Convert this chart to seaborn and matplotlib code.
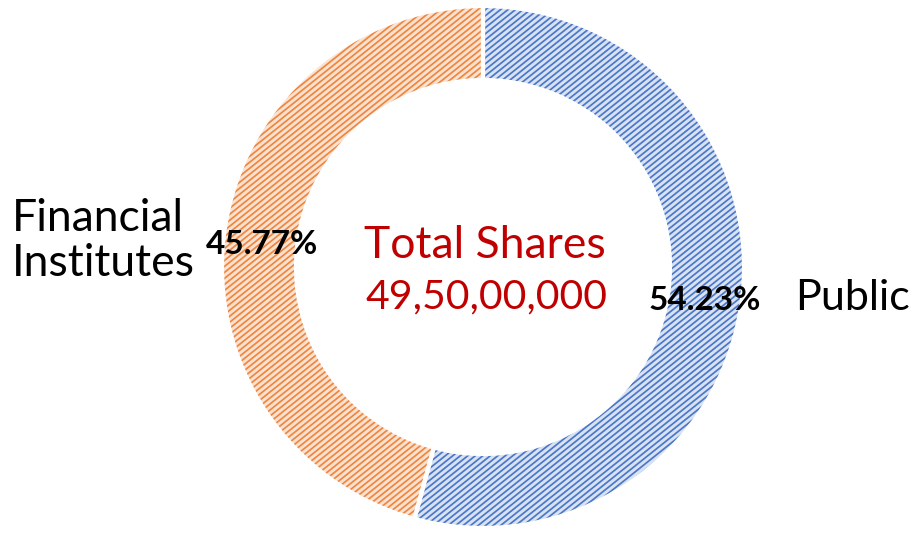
import matplotlib
matplotlib.use("Agg")
import matplotlib.pyplot as plt
import seaborn as sns
import numpy as np
from matplotlib.collections import LineCollection

# data
labels = ["Public", "Financial\nInstitutes"]
shares = [54.23, 45.77]
pct_text = ["54.23%", "45.77%"]
fill_colors = ["#d9e2f3", "#fbe2d0"]
hatch_colors = ["#4a78c8", "#ef8640"]
total_title = "Total Shares"
total_value = "49,50,00,000"

sns.set_theme(style="white")
plt.rcParams['font.family'] = ['Lato', 'DejaVu Sans']

fig = plt.figure(figsize=(9.14, 5.34), dpi=100)
ax = fig.add_axes([0, 0, 1, 1])

cx, cy, R, w = 483, 267, 261, 74

# filled ring
wedges, _ = ax.pie(shares, startangle=90, counterclock=False, center=(cx, cy),
                   radius=R, colors=fill_colors, frame=True,
                   wedgeprops=dict(width=w, linewidth=0))

# diagonal hatching (texture), clipped to each wedge
slope = 0.8
gap = 6.0
x0, x1 = 0, 914
for wd, hc in zip(wedges, hatch_colors):
    segs = []
    for b in np.arange(-800, 1100, gap):
        segs.append([(x0, b + slope * x0), (x1, b + slope * x1)])
    lc = LineCollection(segs, colors=hc, linewidths=1.25, zorder=3)
    ax.add_collection(lc)
    lc.set_clip_path(wd)

# white borders on top
ax.pie(shares, startangle=90, counterclock=False, center=(cx, cy), radius=R,
       colors=["none", "none"], frame=True,
       wedgeprops=dict(width=w, edgecolor="white", linewidth=3, fill=False,
                       zorder=4))
ax.set_xlim(0, 914)
ax.set_ylim(0, 534)
ax.set_aspect("equal")
ax.axis("off")

# percentage labels
ax.text(705, 534 - 301, pct_text[0], ha="center", va="center",
        fontsize=24, fontweight="bold", color="black", zorder=5)
ax.text(262, 534 - 244, pct_text[1], ha="center", va="center",
        fontsize=24, fontweight="bold", color="black", zorder=5)

# category labels
ax.text(795, 534 - 298, labels[0], ha="left", va="center",
        fontsize=31, color="black")
ax.text(12, 534 - 241, labels[1], ha="left", va="center",
        fontsize=32, color="black", linespacing=1.15)

# centre text
ax.text(cx + 2, 534 - 245, total_title, ha="center", va="center",
        fontsize=32, color="#c00000")
ax.text(cx + 3, 534 - 297, total_value, ha="center", va="center",
        fontsize=29.5, color="#c00000")

fig.savefig("out.png", dpi=100)
